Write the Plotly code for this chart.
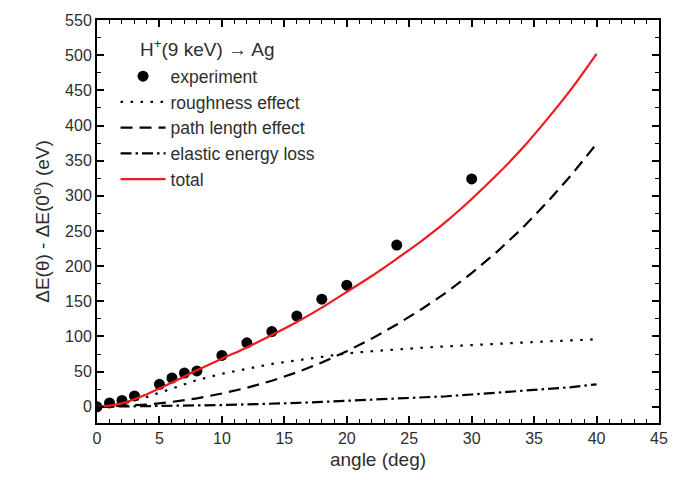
import plotly.graph_objects as go

# Measured energy-loss shift for H+ (9 keV) on Ag
exp_angle = [0, 1, 2, 3, 5, 6, 7, 8, 10, 12, 14, 16, 18, 20, 24, 30]
exp_shift = [0, 5.5, 9, 15.5, 32, 41, 48, 51, 73, 91, 107, 129, 153, 173, 230, 324]

# Model contributions
model_angle = [0, 2, 4, 6, 8, 10, 12, 14, 16, 18, 20, 22, 24, 26, 28, 30, 32, 34, 36, 38, 40]
roughness = [0, 4, 14, 26, 38, 47, 54, 61, 66, 71, 76, 79, 82, 84, 86, 88, 89.5, 91, 93, 94.5, 96]
path_length = [0, 1, 3, 7, 12, 19, 27, 37, 49, 63, 79, 97, 117, 139, 163, 190, 220, 253, 290, 330, 374]
elastic = [0, 0.3, 0.8, 1.5, 2, 2.5, 3.5, 4, 5.5, 7, 8.5, 10, 11.5, 13, 15, 17.5, 20, 22.5, 25, 28, 32]
total = [0, 5, 18, 34.5, 52, 68.5, 84.5, 102, 120.5, 141, 163.5, 186, 210.5, 236, 264, 295.5, 329.5, 366.5, 408, 452.5, 502]

x_ticks = [0, 5, 10, 15, 20, 25, 30, 35, 40, 45]
y_ticks = [0, 50, 100, 150, 200, 250, 300, 350, 400, 450, 500, 550]

FONT = "Liberation Sans, Arial, sans-serif"
TXT = "#2e2e2e"

fig = go.Figure()
fig.add_trace(go.Scatter(
    x=exp_angle, y=exp_shift, mode="markers", name="experiment",
    marker=dict(symbol="circle", size=11, color="black"),
    legendgroup="a"))
fig.add_trace(go.Scatter(
    x=model_angle, y=roughness, mode="lines", name="roughness effect",
    line=dict(color="black", width=2.2, dash="2.5px,7.5px"),
    legendgroup="b"))
fig.add_trace(go.Scatter(
    x=model_angle, y=path_length, mode="lines", name="path length effect",
    line=dict(color="black", width=2.2, dash="12px,7px"),
    legendgroup="c"))
fig.add_trace(go.Scatter(
    x=model_angle, y=elastic, mode="lines", name="elastic energy loss",
    line=dict(color="black", width=2.2, dash="11px,4px,2.5px,4px"),
    legendgroup="d"))
fig.add_trace(go.Scatter(
    x=model_angle, y=total, mode="lines", name="total",
    line=dict(color="#ee1c1c", width=2.2), line_shape="spline",
    legendgroup="e"))

axis_common = dict(
    showline=True, linecolor="black", linewidth=2, mirror="ticks",
    ticks="inside", ticklen=7, tickwidth=1.5, tickcolor="black",
    showgrid=False, zeroline=False,
    tickfont=dict(family=FONT, size=16, color=TXT),
)

fig.update_layout(
    width=684, height=480,
    margin=dict(l=97, r=25, t=15, b=57),
    plot_bgcolor="white", paper_bgcolor="white",
    font=dict(family=FONT, color=TXT),
    showlegend=True,
    legend=dict(
        x=0.033, y=0.905, xanchor="left", yanchor="top",
        bgcolor="rgba(0,0,0,0)", borderwidth=0,
        font=dict(family=FONT, size=17.5, color=TXT),
        tracegroupgap=0, traceorder="grouped",
        itemwidth=45,
    ),
    xaxis=dict(
        range=[0, 45], tickvals=x_ticks,
        minor=dict(ticks="inside", dtick=1, ticklen=4, tickwidth=1.2, tickcolor="black"),
        title=dict(text="angle (deg)", font=dict(family=FONT, size=19, color=TXT), standoff=6),
        **axis_common,
    ),
    yaxis=dict(
        range=[-23, 550], tickvals=y_ticks,
        minor=dict(ticks="inside", dtick=25, tick0=0, ticklen=4, tickwidth=1.2, tickcolor="black"),
        title=dict(text="ΔE(θ) - ΔE(0<sup>o</sup>) (eV)", font=dict(family=FONT, size=19, color=TXT), standoff=10),
        **axis_common,
    ),
    annotations=[dict(
        text="H<sup>+</sup>(9 keV) → Ag", xref="paper", yref="paper",
        x=0.073, y=0.895, xanchor="left", yanchor="bottom", showarrow=False,
        font=dict(family=FONT, size=19, color=TXT),
    )],
)

fig.write_html("out.html")
